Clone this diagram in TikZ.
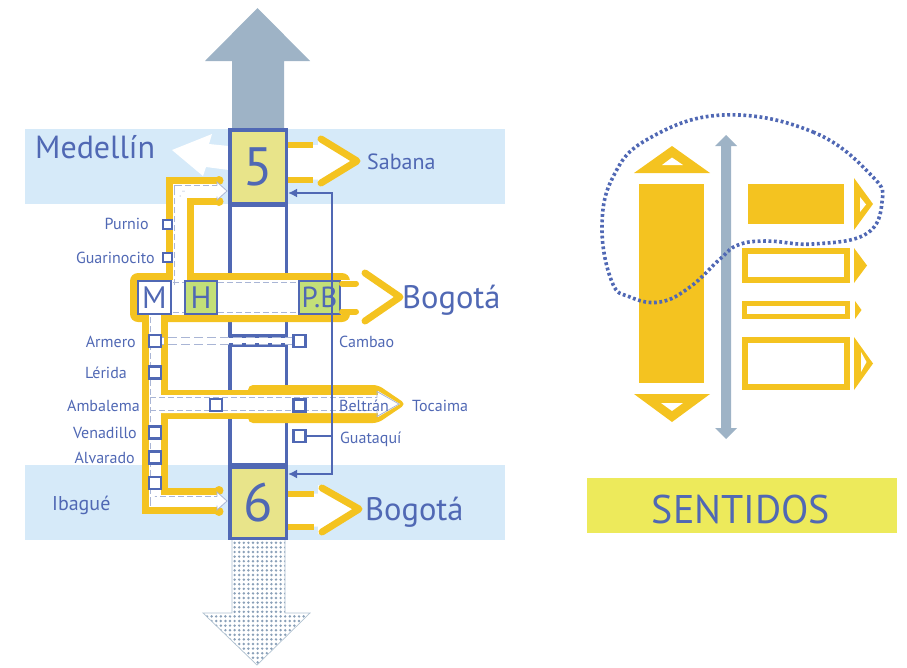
\documentclass[tikz,border=0pt]{standalone}
\usepackage{fontspec}
\setmainfont{PT Sans}
\usetikzlibrary{arrows.meta,patterns.meta}

\definecolor{tblue}{HTML}{5068B4}
\definecolor{bandblue}{HTML}{D6EAF9}
\definecolor{roady}{HTML}{F4C320}
\definecolor{boxy}{HTML}{E8E48A}
\definecolor{hgreen}{HTML}{C3DF78}
\definecolor{steel}{HTML}{9EB3C6}
\definecolor{dotc}{HTML}{8AA0B8}
\definecolor{lanec}{HTML}{A9B5D5}
\definecolor{sentfill}{HTML}{EDEA5B}

\tikzset{
  lbl/.style={text=tblue, inner sep=0pt, font=\fontsize{16}{16}\selectfont},
  city/.style={text=tblue, inner sep=0pt, font=\fontsize{32}{32}\selectfont},
  exitbox/.style={draw=tblue, line width=1.8pt, minimum height=33pt, inner sep=0pt,
                  text=tblue, font=\fontsize{31}{31}\selectfont},
  junction/.style={draw=tblue, line width=3.5pt, fill=boxy, minimum width=56.5pt,
                   text=tblue, font=\fontsize{54}{54}\selectfont, inner sep=0pt},
  stopbox/.style={draw=tblue, line width=2.3pt, fill=white, minimum size=12pt, inner sep=0pt},
  smallstop/.style={stopbox, line width=2pt, minimum size=9pt},
  laneln/.style={draw=lanec, line width=0.8pt, dash pattern=on 6pt off 3pt},
  lanehead/.style={draw=lanec, line width=0.8pt},
  chev/.style={draw=roady, line width=7pt, line cap=round, line join=round},
  stub/.style={draw=roady, line width=6pt, line cap=round},
  conn/.style={draw=tblue, line width=1.8pt},
}

\begin{document}
\begin{tikzpicture}[x=1pt,y=-1pt]
\useasboundingbox (0,0) rectangle (907,667);

% city bands
\fill[bandblue] (25,129) rectangle (505,204);
\fill[bandblue] (25,465) rectangle (505,540);

% trunk road direction arrows
\fill[steel] (232,131) -- (232,61) -- (205,61) -- (257.5,8) -- (310,61) -- (284,61) -- (284,131) -- cycle;
\draw[steel!80, line width=0.7pt, pattern={Dots[radius=1.35pt, distance=4.6pt]}, pattern color=dotc]
  (232,539) -- (232,613) -- (203,613) -- (257,665) -- (310,613) -- (285,613) -- (285,539) -- cycle;

% trunk road body between the junctions
\draw[tblue, line width=3.5pt, fill=white] (230,205) rectangle (286.5,336);
\draw[tblue, line width=3.5pt, fill=white] (230,345) rectangle (286.5,465);

% exit towards Medellin
\fill[white] (172,150) -- (212,134) -- (209,144) -- (229,146) -- (229,170) -- (206,167) -- (203,176) -- cycle;

% route centre lines
\coordinate (r1a) at (180,285);
\coordinate (r1b) at (180,191);
\coordinate (r1c) at (219,191);
\coordinate (r3a) at (155,312);
\coordinate (r3b) at (155,501);
\coordinate (r3c) at (219,501);
\coordinate (r4a) at (155,404);
\coordinate (r4b) at (255,404);

% routes: yellow edges
\draw[roady, line width=28pt] (r1a) -- (r1b) -- (r1c);
\draw[roady, line width=26pt] (r3a) -- (r3b) -- (r3c);
\draw[roady, line width=29pt] (r4a) -- (r4b);
\fill[roady, rounded corners=5pt] (248,385) -- (378,385) -- (406,404) -- (378,423) -- (248,423) -- cycle;
\fill[roady, rounded corners=8pt] (130,273) rectangle (350,322);
\fill[roady] (219,180.5) circle (4.5pt) (219,201.5) circle (4.5pt)
             (219,490.5) circle (4.5pt) (219,511.5) circle (4.5pt);

% routes: white carriageway
\draw[white, line width=14pt] (r1a) -- (r1b) -- (r1c);
\draw[white, line width=12pt] (r3a) -- (r3b) -- (r3c);
\draw[white, line width=18pt] (r4a) -- (r4b);
\fill[white] (155,395) -- (378,395) -- (378,391) -- (400,404) -- (378,417) -- (378,413) -- (155,413) -- cycle;
\fill[white] (137,280) rectangle (353,315);

% lane markings
\draw[laneln, double=white, double distance=11pt] (r1a) -- (r1b) -- (217,191);
\fill[white] (217,182) -- (227,191) -- (217,200) -- cycle;
\draw[lanehead] (217,185.5) -- (217,182) -- (227,191) -- (217,200) -- (217,196.5);
\draw[laneln, double=white, double distance=9pt] (155,317) -- (r3b) -- (217,501);
\fill[white] (217,492) -- (227,501) -- (217,510) -- cycle;
\draw[lanehead] (217,496.5) -- (217,492) -- (227,501) -- (217,510) -- (217,505.5);
\draw[laneln] (150,397.5) -- (377,397.5);
\draw[laneln] (150,410.5) -- (377,410.5);
\draw[lanehead] (377,397.5) -- (377,391.5) -- (399,404) -- (377,416.5) -- (377,410.5);
\draw[laneln] (137,282.5) -- (345,282.5);
\draw[laneln] (137,312.5) -- (345,312.5);

% junctions
\node[junction, minimum height=73.5pt] (b5) at (258,166.5) {5};
\node[junction, minimum height=71.5pt] (b6) at (258,502.5) {6};

% exits on the crossing road
\node[exitbox, fill=white, minimum width=33pt] (M) at (154.5,297.5) {M};
\node[exitbox, fill=hgreen, minimum width=32pt] (H) at (201,297.5) {H};
\node[exitbox, fill=hgreen, minimum width=41pt, font=\fontsize{29}{29}\selectfont] (PB) at (319.5,297.5) {P.B};

% link Armero - Cambao
\coordinate (armx) at (155,341);
\coordinate (camx) at (299.5,341);
\draw[lanec, line width=0.9pt, dash pattern=on 9pt off 4pt, double=white, double distance=5.5pt] (armx) -- (camx);

% stops
\node[smallstop] (sPur) at (167.5,224.5) {};
\node[smallstop] (sGua) at (167.5,257) {};
\node[stopbox] (sArm) at (155,341) {};
\node[stopbox] (sLer) at (155,372.5) {};
\node[stopbox] (sVen) at (155,432.5) {};
\node[stopbox] (sAlv) at (155,457.5) {};
\node[stopbox] (sIba) at (155,483) {};
\node[stopbox] (sAmb) at (216,405) {};
\node[stopbox] (sBel) at (299.5,405.5) {};
\node[stopbox] (sCam) at (299.5,341) {};
\node[stopbox] (sGtq) at (299.5,436) {};

% return link between the junctions
\coordinate (k1) at (332,193);
\coordinate (k2) at (332,474);
\draw[conn, {Latex[length=9pt,width=9pt]}-{Latex[length=9pt,width=9pt]}]
  (b5.east |- k1) -- (k1) -- (k2) -- (b6.east |- k2);
\draw[tblue, line width=1.2pt] (sGtq.east) -- (sGtq.east -| k1);

% exit arrows
\fill[white] (288,145) -- (318,145) -- (318,137) -- (359,161) -- (318,185) -- (318,179.5) -- (288,179.5) -- cycle;
\draw[stub, line cap=butt] (288,145) -- (313,145);
\draw[stub, line cap=butt] (288,179.5) -- (313,179.5);
\draw[chev] (321,139) -- (357,161) -- (321,183);

\draw[stub] (342,283.5) -- (356,283.5);
\draw[stub] (342,311.5) -- (356,311.5);
\draw[chev] (365,273) -- (400,297) -- (365,321);

\fill[white] (288,493.5) -- (318,493.5) -- (318,485) -- (362,509) -- (318,534) -- (318,526.5) -- (288,526.5) -- cycle;
\draw[stub, line cap=butt] (288,493.5) -- (314,493.5);
\draw[stub, line cap=butt] (288,526.5) -- (314,526.5);
\draw[chev] (322,488) -- (359,509) -- (322,532);

% place names
\node[city, anchor=base west] (tMed) at (35,158) {Medellín};
\node[text=tblue, inner sep=0pt, font=\fontsize{22}{22}\selectfont, anchor=base west] (tSab) at (367,169) {Sabana};
\node[text=tblue, inner sep=0pt, font=\fontsize{32.5}{32.5}\selectfont, anchor=base west] (tBog1) at (402,308) {Bogotá};
\node[text=tblue, inner sep=0pt, font=\fontsize{32.5}{32.5}\selectfont, anchor=base west] (tBog2) at (365,520) {Bogotá};
\node[text=tblue, inner sep=0pt, font=\fontsize{20}{20}\selectfont, anchor=base west] (tIba) at (52,510) {Ibagué};
\node[lbl, anchor=base east] (tPur) at (149,229.5) {Purnio};
\node[lbl, anchor=base east] (tGuar) at (155,263) {Guarinocito};
\node[lbl, anchor=base east] (tArm) at (136,347) {Armero};
\node[lbl, anchor=base east] (tLer) at (127,378) {Lérida};
\node[lbl, anchor=base east] (tAmb) at (140,411) {Ambalema};
\node[lbl, anchor=base east] (tVen) at (137,438) {Venadillo};
\node[lbl, anchor=base east] (tAlv) at (135,463) {Alvarado};
\node[lbl, anchor=base west] (tCam) at (339,347) {Cambao};
\node[lbl, anchor=base west] (tBel) at (339,411) {Beltrán};
\node[lbl, anchor=base west] (tToc) at (412,411) {Tocaima};
\node[lbl, anchor=base west] (tGtq) at (340,443) {Guataquí};

% ---- legend ----
\fill[steel] (721,146) -- (715,146) -- (726,135) -- (737,146) -- (731,146) -- (731,428)
  -- (737,428) -- (726,439) -- (715,428) -- (721,428) -- cycle;
% two-way road
\fill[roady] (639,184) rectangle (704,383);
\fill[roady] (634,173) -- (672,146) -- (710,173) -- cycle;
\fill[white] (662,165) -- (672,157.5) -- (683,165) -- cycle;
\fill[roady] (634,394) -- (710,394) -- (672,422) -- cycle;
\fill[white] (661,403) -- (683,403) -- (672,411) -- cycle;
% one-way roads
\fill[roady] (748,184) rectangle (844,224);
\fill[roady] (854,178) -- (873,204) -- (854,230) -- cycle;
\fill[white] (860,197) -- (866,204.5) -- (860,212) -- cycle;
\draw[roady, line width=6pt, fill=white] (745,251) rectangle (847,280);
\fill[roady] (854,248) -- (867,265.5) -- (854,283) -- cycle;
\draw[roady, line width=5pt, fill=white] (744.5,303.5) rectangle (847.5,316.5);
\fill[roady] (855,301) -- (861.5,310) -- (855,319) -- cycle;
\draw[roady, line width=6pt, fill=white] (745,340) rectangle (847,387);
\fill[roady] (854,337) -- (873,363.5) -- (854,390) -- cycle;
\fill[white] (861,352) -- (866.5,362) -- (861,372) -- cycle;
% grouping outline
\draw[tblue, line width=3.6pt, dash pattern=on 2.8pt off 2.6pt]
  plot[smooth cycle, tension=0.7] coordinates {(723,115) (813,132) (872,176) (882,202) (866,234)
  (813,244) (767,241) (738,245) (720,259) (690,287) (660,302) (630,297) (612,282) (602,228)
  (613,177) (648,139)};

\node[fill=sentfill, minimum width=310pt, minimum height=55pt, inner sep=0pt] (sentbox) at (742,505.5) {};
\node[text=tblue, inner sep=0pt, font=\fontsize{40}{40}\selectfont] (senttext) at (741,509) {SENTIDOS};
\end{tikzpicture}
\end{document}
